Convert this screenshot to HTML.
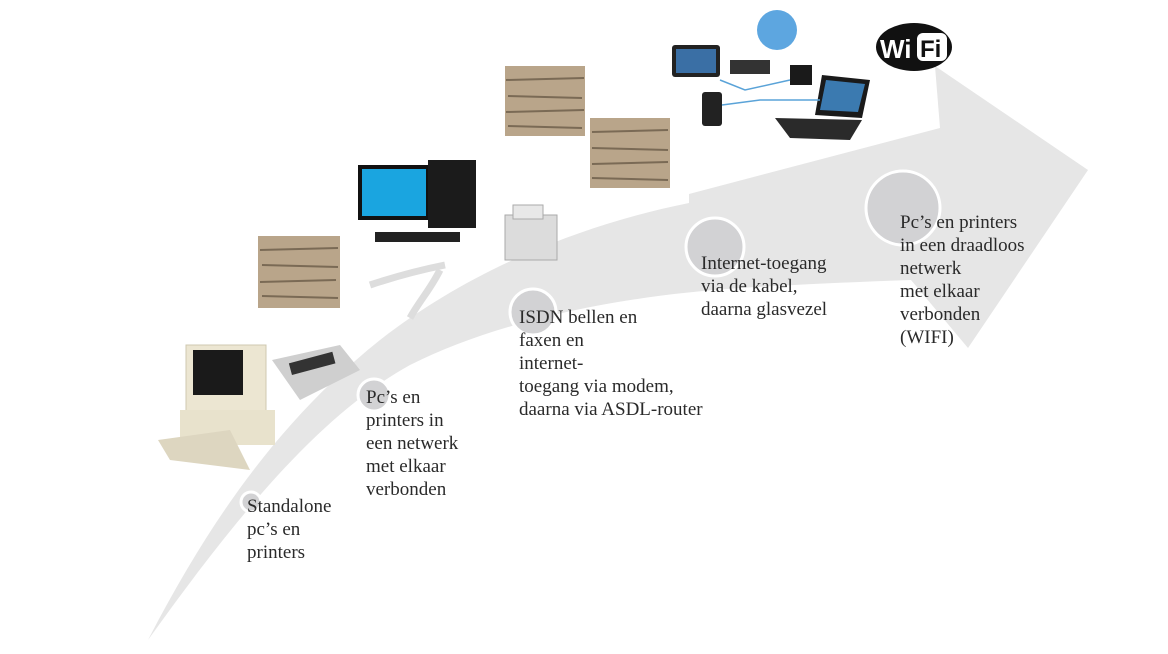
<!DOCTYPE html>
<html><head><meta charset="utf-8"><style>
html,body{margin:0;padding:0;background:#fff;}
.w{position:relative;width:1168px;height:654px;overflow:hidden;font-family:"Liberation Serif",serif;}
.t{position:absolute;font-size:19px;line-height:23px;color:#2a2a2a;white-space:nowrap;}
</style></head><body><div class="w">
<svg width="1168" height="654" style="position:absolute;left:0;top:0">
<!-- arrow -->
<path d="M148,640 C210,520 280,420 380,340 C470,270 580,225 689,203 L689,194 L940,128 L935,66 L1088,170 L968,348 L911,280 C850,282 790,285 740,288 C620,296 500,320 410,365 C310,420 220,540 148,640 Z" fill="#e6e6e6"/>
<!-- circles -->
<g fill="#d2d2d4" stroke="#fff" stroke-width="3">
<circle cx="251" cy="502" r="10"/>
<circle cx="374" cy="395" r="16"/>
<circle cx="533" cy="312" r="23"/>
<circle cx="715" cy="247" r="29"/>
<circle cx="903" cy="208" r="37"/>
</g>
<!-- old pc -->
<rect x="186" y="345" width="80" height="68" fill="#ece6d2" stroke="#cfc8b0"/>
<rect x="193" y="350" width="50" height="45" fill="#1a1a1a"/>
<rect x="180" y="410" width="95" height="35" fill="#e8e2cc"/>
<polygon points="158,440 230,430 250,470 170,460" fill="#ddd6c0"/>
<polygon points="272,360 340,345 360,370 300,400" fill="#cfcfcf"/>
<rect x="290" y="358" width="45" height="12" fill="#333" transform="rotate(-15 310 365)"/>
<!-- paper stacks -->
<g>
<rect x="258" y="236" width="82" height="72" fill="#b9a58a"/>
<g stroke="#7a6a55" stroke-width="2"><line x1="260" y1="250" x2="338" y2="248"/><line x1="262" y1="265" x2="338" y2="267"/><line x1="260" y1="282" x2="336" y2="280"/><line x1="262" y1="296" x2="338" y2="298"/></g>
<rect x="505" y="66" width="80" height="70" fill="#b9a58a"/>
<g stroke="#7a6a55" stroke-width="2"><line x1="506" y1="80" x2="584" y2="78"/><line x1="508" y1="96" x2="582" y2="98"/><line x1="506" y1="112" x2="584" y2="110"/><line x1="508" y1="126" x2="582" y2="128"/></g>
<rect x="590" y="118" width="80" height="70" fill="#b9a58a"/>
<g stroke="#7a6a55" stroke-width="2"><line x1="592" y1="132" x2="668" y2="130"/><line x1="592" y1="148" x2="668" y2="150"/><line x1="592" y1="164" x2="668" y2="162"/><line x1="592" y1="178" x2="668" y2="180"/></g>
</g>
<!-- modern pc -->
<rect x="358" y="165" width="72" height="55" fill="#111"/>
<rect x="362" y="169" width="64" height="47" fill="#1aa5e0"/>
<rect x="428" y="160" width="48" height="68" fill="#1b1b1b"/>
<rect x="375" y="232" width="85" height="10" fill="#222"/>
<!-- cables -->
<path d="M370,285 C400,275 430,268 445,265" stroke="#ddd" stroke-width="7" fill="none"/>
<path d="M410,318 C420,300 430,290 440,270" stroke="#ddd" stroke-width="7" fill="none"/>
<!-- fax -->
<rect x="505" y="215" width="52" height="45" fill="#dcdcdc" stroke="#aaa"/>
<rect x="513" y="205" width="30" height="14" fill="#e8e8e8" stroke="#aaa"/>
<!-- network devices -->
<rect x="672" y="45" width="48" height="32" rx="3" fill="#222"/>
<rect x="676" y="49" width="40" height="24" fill="#3a6fa5"/>
<rect x="730" y="60" width="40" height="14" fill="#333"/>
<circle cx="777" cy="30" r="20" fill="#5da6e0"/>
<rect x="790" y="65" width="22" height="20" fill="#1a1a1a"/>
<rect x="702" y="92" width="20" height="34" rx="3" fill="#222"/>
<polygon points="822,75 870,80 862,118 815,115" fill="#1a1a1a"/>
<polygon points="826,80 865,84 858,112 820,110" fill="#3b7ab0"/>
<polygon points="775,118 862,120 850,140 790,138" fill="#2a2a2a"/>
<g stroke="#5aa3d8" stroke-width="1.5" fill="none"><path d="M720,80 L745,90 L790,80"/><path d="M722,105 L760,100 L820,100"/></g>
<!-- wifi logo -->
<ellipse cx="914" cy="47" rx="38" ry="24" fill="#111"/>
<text x="880" y="58" font-family="Liberation Sans,sans-serif" font-weight="bold" font-size="26" fill="#fff">Wi</text>
<rect x="917" y="33" width="30" height="28" rx="6" fill="#fff"/>
<text x="920" y="57" font-family="Liberation Sans,sans-serif" font-weight="bold" font-size="24" fill="#111">Fi</text>
</svg>
<div class="t" style="left:247px;top:495px">Standalone<br>pc’s en<br>printers</div>
<div class="t" style="left:366px;top:386px">Pc’s en<br>printers in<br>een netwerk<br>met elkaar<br>verbonden</div>
<div class="t" style="left:519px;top:306px">ISDN bellen en<br>faxen en<br>internet-<br>toegang via modem,<br>daarna via ASDL-router</div>
<div class="t" style="left:701px;top:252px">Internet-toegang<br>via de kabel,<br>daarna glasvezel</div>
<div class="t" style="left:900px;top:211px">Pc’s en printers<br>in een draadloos<br>netwerk<br>met elkaar<br>verbonden<br>(WIFI)</div>
</div></body></html>
